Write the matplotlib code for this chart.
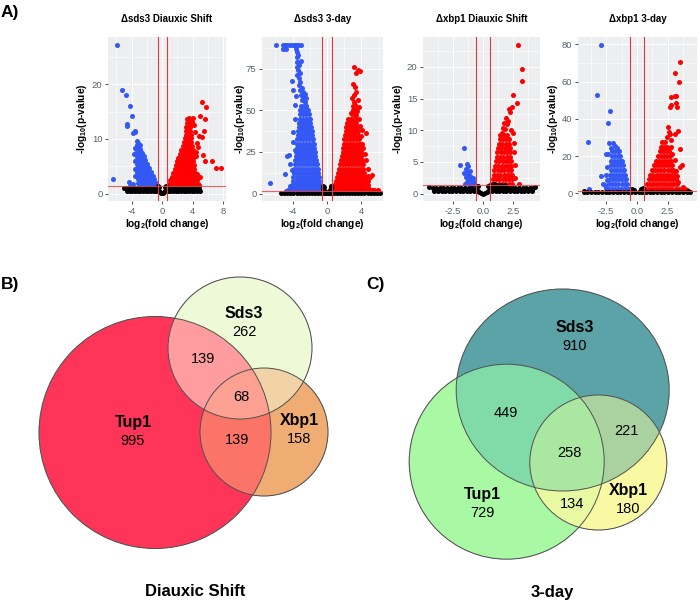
import numpy as np
import matplotlib
matplotlib.use("Agg")
import matplotlib.pyplot as plt
from matplotlib.patches import Ellipse
from matplotlib.colors import to_rgba

plt.rcParams['font.family'] = ['Liberation Sans', 'DejaVu Sans']
plt.rcParams['mathtext.fontset'] = 'custom'
plt.rcParams['mathtext.bf'] = 'Liberation Sans:bold'
plt.rcParams['mathtext.rm'] = 'Liberation Sans'
plt.rcParams['mathtext.default'] = 'bf'
plt.rcParams['axes.unicode_minus'] = False

W, H = 700, 604

# ---------------- volcano data ----------------
# dense clouds are given as rows: (y, [x, x, ...]); stray points as (x, y)

# Δsds3 Diauxic Shift
sds3_ds_blue_rows = [
    (8.9, [-3.3, -3.1]),
    (8.2, [-3.4, -3.15, -2.9]),
    (7.5, [-3.4, -3.15, -2.9, -2.65]),
    (6.8, [-3.35, -3.1, -2.85, -2.6, -2.4]),
    (6.1, [-3.4, -3.15, -2.9, -2.65, -2.4, -2.2]),
    (5.4, [-3.35, -3.1, -2.85, -2.6, -2.35, -2.1, -1.95]),
    (4.7, [-3.3, -3.05, -2.8, -2.55, -2.3, -2.05, -1.8, -1.7]),
    (4.0, [-3.3, -3.05, -2.8, -2.55, -2.3, -2.05, -1.8, -1.55, -1.45]),
    (3.3, [-3.25, -3.0, -2.75, -2.5, -2.25, -2.0, -1.75, -1.5, -1.25]),
    (2.6, [-3.2, -2.95, -2.7, -2.45, -2.2, -1.95, -1.7, -1.45, -1.2, -1.0]),
    (1.9, [-3.2, -2.95, -2.7, -2.45, -2.2, -1.95, -1.7, -1.45, -1.2, -0.95, -0.8]),
    (1.5, [-3.0, -2.5, -2.0, -1.5, -1.1, -0.75]),
]
sds3_ds_blue_out = [(-6.4, 2.7), (-5.95, 27.2), (-5.3, 19.0), (-4.8, 18.0), (-4.2, 16.1),
                    (-3.9, 14.2), (-4.65, 12.8), (-4.65, 12.35), (-3.8, 11.1), (-3.5, 11.4),
                    (-3.6, 11.2), (-4.4, 2.1), (-4.2, 1.4), (-3.8, 1.7), (-3.1, 9.3),
                    (-3.25, 9.6), (-2.9, 8.9), (-3.6, 8.3), (-3.7, 7.2), (-3.55, 6.0),
                    (-2.7, 7.6), (-2.5, 6.6), (-3.5, 4.5), (-3.6, 3.3)]
sds3_ds_red_rows = [
    (1.7, [0.9, 1.2, 1.5, 1.8, 2.1, 2.4, 2.7, 3.0, 3.3, 3.6, 3.9, 4.2, 4.5, 4.75]),
    (2.4, [1.1, 1.4, 1.7, 2.0, 2.3, 2.6, 2.9, 3.2, 3.5, 3.8, 4.1, 4.4, 4.6]),
    (3.1, [1.3, 1.6, 1.9, 2.2, 2.5, 2.8, 3.1, 3.4, 3.7, 4.0, 4.3]),
    (3.8, [1.45, 1.75, 2.05, 2.35, 2.65, 2.95, 3.25, 3.55, 3.85, 4.15, 4.3]),
    (4.5, [1.65, 1.95, 2.25, 2.55, 2.85, 3.15, 3.45, 3.75, 4.05, 4.25]),
    (5.2, [1.8, 2.1, 2.4, 2.7, 3.0, 3.3, 3.6, 3.9, 4.2]),
    (5.9, [2.0, 2.3, 2.6, 2.9, 3.2, 3.5, 3.8, 4.1]),
    (6.6, [2.15, 2.45, 2.75, 3.05, 3.35, 3.65, 3.95, 4.1]),
    (7.3, [2.35, 2.65, 2.95, 3.25, 3.55, 3.85, 4.05]),
    (8.0, [2.55, 2.85, 3.15, 3.45, 3.75, 4.0]),
    (8.7, [2.7, 3.0, 3.3, 3.6, 3.9]),
    (9.4, [2.9, 3.2, 3.5, 3.8]),
    (10.1, [3.05, 3.3, 3.55, 3.8]),
    (10.8, [3.1, 3.35, 3.6, 3.85]),
    (11.5, [3.15, 3.4, 3.65]),
    (12.2, [3.2, 3.45, 3.7]),
    (12.9, [3.25, 3.5, 3.75]),
    (13.6, [3.3, 3.55]),
]
sds3_ds_red_out = [(5.2, 16.75), (5.8, 15.9), (5.0, 14.2), (5.65, 13.75), (5.45, 11.45),
                   (4.9, 10.6), (4.6, 9.2), (5.2, 10.3), (5.35, 7.0), (5.6, 5.9), (6.6, 5.9),
                   (7.05, 4.6), (7.75, 4.7), (4.7, 8.5), (4.5, 6.8), (4.8, 1.6), (4.3, 11.2),
                   (4.15, 12.5), (3.9, 13.2), (4.55, 3.5), (5.0, 3.0), (4.4, 7.6), (4.0, 13.8),
                   (3.6, 13.9)]
sds3_ds_black_rows = [
    (0.95, [-4.8, -4.45, -4.1, -3.75, -3.4, -3.05, -2.7, -2.35, -2.0, -1.65, -1.3, -0.95, -0.6,
            0.6, 0.95, 1.3, 1.65, 2.0, 2.35, 2.7, 3.05, 3.4, 3.75, 4.1, 4.45, 4.8]),
    (0.45, [-4.6, -4.25, -3.9, -3.55, -3.2, -2.85, -2.5, -2.15, -1.8, -1.45, -1.1, -0.75, -0.45,
            0.45, 0.75, 1.1, 1.45, 1.8, 2.15, 2.5, 2.85, 3.2, 3.55, 3.9, 4.25, 4.6, 4.95]),
]
sds3_ds_black_out = [(-0.3, 0.3), (-0.15, 0.1), (0.0, 0.03), (0.15, 0.1), (0.3, 0.3),
                     (-0.45, 1.2), (0.45, 1.2), (-0.55, 1.4), (0.55, 1.35), (-5.0, 1.1)]

# Δsds3 3-day
sds3_3d_blue_rows = [
    (2.5, [-4.2, -3.85, -3.5, -3.15, -2.8, -2.45, -2.1, -1.75, -1.4, -1.05, -0.7]),
    (5.0, [-4.1, -3.75, -3.4, -3.05, -2.7, -2.35, -2.0, -1.65, -1.3, -0.95, -0.78]),
    (7.5, [-3.95, -3.6, -3.25, -2.9, -2.55, -2.2, -1.85, -1.5, -1.15, -0.88]),
    (10.0, [-3.9, -3.55, -3.2, -2.85, -2.5, -2.15, -1.8, -1.45, -1.1, -0.97]),
    (12.5, [-3.85, -3.5, -3.15, -2.8, -2.45, -2.1, -1.75, -1.4, -1.05]),
    (15.0, [-3.8, -3.45, -3.1, -2.75, -2.4, -2.05, -1.7, -1.35, -1.1]),
    (17.5, [-3.75, -3.4, -3.05, -2.7, -2.35, -2.0, -1.65, -1.3, -1.15]),
    (20.0, [-3.7, -3.35, -3.0, -2.65, -2.3, -1.95, -1.6, -1.25]),
    (22.5, [-3.65, -3.3, -2.95, -2.6, -2.25, -1.9, -1.55, -1.35]),
    (25.0, [-3.6, -3.25, -2.9, -2.55, -2.2, -1.85, -1.5, -1.4]),
    (27.5, [-3.55, -3.2, -2.85, -2.5, -2.15, -1.8, -1.5]),
    (30.0, [-3.5, -3.15, -2.8, -2.45, -2.1, -1.75, -1.55]),
    (32.5, [-3.45, -3.1, -2.75, -2.4, -2.05, -1.7, -1.6]),
    (35.0, [-3.4, -3.05, -2.7, -2.35, -2.0, -1.7]),
    (37.5, [-3.35, -3.0, -2.65, -2.3, -1.95, -1.8]),
    (40.0, [-3.3, -2.95, -2.6, -2.25, -1.9]),
    (42.5, [-3.25, -2.9, -2.55, -2.2, -1.95]),
    (45.0, [-3.2, -2.85, -2.5, -2.15, -2.0]),
    (47.5, [-3.15, -2.8, -2.45, -2.1]),
    (50.0, [-3.1, -2.75, -2.4, -2.2]),
    (52.5, [-3.0, -2.7, -2.4]),
    (89.2, [-5.93, -5.15, -4.88, -4.6, -4.3, -3.99, -3.72, -3.52, -3.33, -3.06]),
]
sds3_3d_blue_out = [(-2.6, 55), (-2.9, 56.3), (-2.75, 58), (-3.05, 59.3), (-2.8, 61),
                    (-3.15, 62.3), (-2.95, 63.5), (-3.3, 65.3), (-3.1, 67), (-4.1, 67.8),
                    (-3.3, 69.3), (-3.5, 71), (-3.2, 72.3), (-3.4, 74.3), (-3.55, 76),
                    (-3.3, 77.2), (-3.07, 79.6), (-3.5, 79.2), (-3.45, 81.8), (-3.33, 83.2),
                    (-3.55, 85.2), (-3.6, 87), (-5.1, 86.6), (-4.8, 86.6), (-3.25, 42.3),
                    (-3.99, 36.9), (-4.38, 23.3), (-4.6, 22.4), (-4.88, 11.9), (-6.6, 6.4),
                    (-3.68, 26.3), (-4.1, 14.0), (-4.3, 4.5), (-4.5, 2.0), (-4.8, 1.8),
                    (-4.25, 17.5), (-3.9, 31), (-3.7, 45), (-3.6, 58.5), (-4.0, 62),
                    (-3.75, 53), (-2.4, 57.5), (-2.6, 60), (-2.5, 52.8)]
sds3_3d_red_rows = [
    (2.5, [0.7, 1.05, 1.4, 1.75, 2.1, 2.45, 2.8, 3.15, 3.5, 3.85, 4.2, 4.55, 4.9]),
    (5.0, [0.85, 1.2, 1.55, 1.9, 2.25, 2.6, 2.95, 3.3, 3.65, 4.0, 4.35, 4.7]),
    (7.5, [1.0, 1.35, 1.7, 2.05, 2.4, 2.75, 3.1, 3.45, 3.8, 4.15, 4.5]),
    (10.0, [1.15, 1.5, 1.85, 2.2, 2.55, 2.9, 3.25, 3.6, 3.95, 4.3, 4.5]),
    (12.5, [1.3, 1.65, 2.0, 2.35, 2.7, 3.05, 3.4, 3.75, 4.1, 4.35]),
    (15.0, [1.4, 1.75, 2.1, 2.45, 2.8, 3.15, 3.5, 3.85, 4.2]),
    (17.5, [1.5, 1.85, 2.2, 2.55, 2.9, 3.25, 3.6, 3.95, 4.15]),
    (20.0, [1.6, 1.95, 2.3, 2.65, 3.0, 3.35, 3.7, 4.05]),
    (22.5, [1.7, 2.05, 2.4, 2.75, 3.1, 3.45, 3.8, 4.0]),
    (25.0, [1.8, 2.15, 2.5, 2.85, 3.2, 3.55, 3.9]),
    (27.5, [1.85, 2.2, 2.55, 2.9, 3.25, 3.6, 3.85]),
    (30.0, [1.95, 2.3, 2.65, 3.0, 3.35, 3.7, 3.8]),
    (32.5, [2.0, 2.35, 2.7, 3.05, 3.4, 3.7]),
    (35.0, [2.1, 2.45, 2.8, 3.15, 3.5, 3.6]),
    (37.5, [2.15, 2.5, 2.85, 3.2, 3.55]),
    (40.0, [2.2, 2.55, 2.9, 3.25, 3.5]),
    (42.5, [2.3, 2.65, 3.0, 3.35]),
    (45.0, [2.45, 2.8, 3.15, 3.4]),
]
sds3_3d_red_out = [(2.9, 47.5), (3.15, 47.8), (3.4, 47.2), (3.0, 50), (3.25, 50.5), (3.5, 49.5),
                   (3.05, 52.5), (3.3, 53), (3.1, 55), (3.57, 56.3), (2.95, 57.5), (3.18, 59.3),
                   (3.35, 61), (3.26, 63.9), (3.0, 66), (3.18, 75.8), (3.57, 74.2), (3.88, 73.6),
                   (3.41, 72.6), (3.76, 44.7), (4.53, 36.3), (3.95, 34.5), (4.1, 30), (4.2, 27.5),
                   (4.4, 24), (4.55, 20), (4.8, 10.4), (5.27, 11.4), (5.0, 9.8), (4.4, 8),
                   (4.7, 7.5), (5.9, 2.4), (5.2, 2.2), (5.45, 2.0), (4.75, 15), (3.7, 52),
                   (2.75, 48.5), (3.85, 40.5), (4.05, 38)]
sds3_3d_black_rows = [
    (0.6, [-5.3, -4.95, -4.6, -4.25, -3.9, -3.55, -3.2, -2.85, -2.5, -2.15, -1.8, -1.45, -1.1,
           -0.75, -0.4, -0.1, 0.2, 0.5, 0.85, 1.2, 1.55, 1.9, 2.25, 2.6, 2.95, 3.3, 3.65, 4.0,
           4.35, 4.7, 5.05, 5.4, 5.75, 6.1]),
]
sds3_3d_black_out = [(-0.45, 2.8), (-0.35, 4.2), (-0.5, 4.8), (-0.25, 1.8), (0.3, 2.2),
                     (0.45, 3.5), (0.5, 1.5), (0.4, 4.6), (0.0, 0.2)]

# Δxbp1 Diauxic Shift
xbp1_ds_blue_rows = []
xbp1_ds_blue_out = [(-1.58, 7.15), (-1.92, 4.5), (-1.36, 4.75), (-1.25, 4.3), (-1.4, 3.9),
                    (-1.58, 3.2), (-1.3, 3.3), (-1.15, 3.0), (-1.0, 2.7), (-1.2, 2.5),
                    (-0.95, 2.2), (-0.8, 2.0), (-1.1, 1.9), (-1.35, 1.8), (-0.75, 1.6),
                    (-0.9, 1.5), (-1.5, 1.5), (-1.05, 1.45), (-0.65, 1.4), (-1.25, 2.2),
                    (-1.45, 2.6), (-0.85, 2.5), (-1.05, 3.5)]
xbp1_ds_red_rows = [
    (1.6, [0.75, 1.03, 1.31, 1.59, 1.87, 2.15, 2.43]),
    (2.3, [0.8, 1.08, 1.36, 1.64, 1.92, 2.2, 2.45]),
    (3.0, [0.88, 1.16, 1.44, 1.72, 2.0, 2.28, 2.42]),
    (3.7, [0.95, 1.23, 1.51, 1.79, 2.07, 2.35]),
    (4.4, [1.0, 1.28, 1.56, 1.84, 2.12, 2.35]),
    (5.1, [1.07, 1.35, 1.63, 1.91, 2.19, 2.32]),
    (5.8, [1.13, 1.41, 1.69, 1.97, 2.25]),
    (6.5, [1.2, 1.48, 1.76, 2.04, 2.25]),
    (7.2, [1.26, 1.54, 1.82, 2.1, 2.22]),
    (7.9, [1.33, 1.61, 1.89, 2.17]),
    (8.6, [1.39, 1.67, 1.95, 2.2]),
    (9.2, [1.45, 1.73, 2.0]),
]
xbp1_ds_red_out = [(1.55, 9.63), (1.69, 10.4), (1.97, 10.95), (1.92, 12.0), (2.25, 12.8),
                   (2.19, 13.3), (2.39, 13.6), (2.53, 15.5), (2.81, 14.3), (2.89, 23.5),
                   (3.22, 19.6), (3.28, 17.7), (1.8, 10.2), (2.1, 11.5), (2.3, 10.0),
                   (2.5, 9.5), (2.6, 8.0), (2.55, 6.5), (2.7, 4.5), (2.65, 2.5), (3.0, 1.6),
                   (2.14, 1.4), (1.75, 11.2)]
xbp1_ds_black_rows = [
    (0.95, [-4.2, -3.9, -3.6, -3.3, -3.0, -2.7, -2.4, -2.1, -1.8, -1.5, -1.2, -0.9, -0.6,
            0.6, 0.9, 1.2, 1.5, 1.8, 2.1, 2.4, 2.7, 3.0, 3.3, 3.6, 3.9, 4.2]),
    (0.45, [-4.05, -3.75, -3.45, -3.15, -2.85, -2.55, -2.25, -1.95, -1.65, -1.35, -1.05, -0.75,
            -0.45, 0.45, 0.75, 1.05, 1.35, 1.65, 1.95, 2.25, 2.55, 2.85, 3.15, 3.45, 3.75, 4.05]),
]
xbp1_ds_black_out = [(-0.3, 0.3), (-0.15, 0.1), (0.0, 0.03), (0.15, 0.1), (0.3, 0.3),
                     (0.6, 1.4), (0.9, 1.5), (1.2, 1.45), (1.5, 1.35), (1.8, 1.3),
                     (-4.5, 1.0), (4.35, 1.1), (-0.45, 1.2), (0.45, 1.25)]

# Δxbp1 3-day
xbp1_3d_blue_rows = [
    (2.5, [-2.3, -2.05, -1.8, -1.55, -1.3, -1.05, -0.8, -0.65]),
    (5.0, [-2.25, -2.0, -1.75, -1.5, -1.25, -1.0, -0.78]),
    (7.5, [-2.2, -1.95, -1.7, -1.45, -1.2, -0.95, -0.87]),
    (10.0, [-2.2, -1.95, -1.7, -1.45, -1.2, -0.97]),
    (12.5, [-2.15, -1.9, -1.65, -1.4, -1.15, -1.05]),
    (15.0, [-2.15, -1.9, -1.65, -1.4, -1.17]),
    (17.5, [-2.1, -1.85, -1.6, -1.35, -1.25]),
    (20.0, [-2.05, -1.8, -1.55, -1.35]),
    (22.5, [-2.0, -1.75, -1.5, -1.45]),
]
xbp1_3d_blue_out = [(-2.93, 79.5), (-3.28, 52.8), (-3.95, 27.3), (-3.87, 2.5), (-2.16, 44.2),
                    (-2.35, 37.9), (-2.89, 9.3), (-2.6, 4.3), (-2.75, 5.2), (-2.1, 24.5),
                    (-1.8, 25.5), (-1.6, 24.3), (-1.95, 27.2), (-2.35, 21.3), (-2.5, 21),
                    (-2.3, 26.8), (-2.45, 14), (-2.5, 10), (-2.4, 7), (-2.55, 3)]
xbp1_3d_red_rows = [
    (2.5, [0.65, 0.9, 1.15, 1.4, 1.65, 1.9, 2.15, 2.4, 2.65, 2.9, 3.15, 3.4, 3.65]),
    (5.0, [0.8, 1.05, 1.3, 1.55, 1.8, 2.05, 2.3, 2.55, 2.8, 3.05, 3.3]),
    (7.5, [0.95, 1.2, 1.45, 1.7, 1.95, 2.2, 2.45, 2.7, 2.95, 3.15]),
    (10.0, [1.1, 1.35, 1.6, 1.85, 2.1, 2.35, 2.6, 2.85, 3.05]),
    (12.5, [1.25, 1.5, 1.75, 2.0, 2.25, 2.5, 2.75, 2.95]),
    (15.0, [1.4, 1.65, 1.9, 2.15, 2.4, 2.65, 2.85]),
    (17.5, [1.55, 1.8, 2.05, 2.3, 2.55, 2.75]),
    (20.0, [1.7, 1.95, 2.2, 2.45, 2.7]),
    (22.5, [1.85, 2.1, 2.35, 2.6]),
    (25.0, [1.95, 2.2, 2.45]),
    (27.5, [2.05, 2.3]),
]
xbp1_3d_red_out = [(3.55, 70.8), (3.09, 64.5), (3.42, 60.0), (2.82, 51.9), (3.09, 52.3),
                   (3.2, 52.5), (2.68, 46.5), (2.78, 47.5), (3.2, 48.4), (3.25, 46.2),
                   (2.55, 35.8), (2.6, 33), (2.7, 32), (3.36, 33.4), (3.5, 24.0), (3.64, 15.1),
                   (3.5, 14.2), (2.82, 28.7), (2.74, 25.1), (3.09, 31.8), (3.36, 6.0),
                   (3.74, 3.4), (2.45, 30), (2.9, 21), (3.1, 18), (3.2, 12), (3.3, 9),
                   (3.9, 2.0), (4.1, 1.8)]
xbp1_3d_black_rows = [
    (0.6, [-4.35, -4.05, -3.75, -3.45, -3.15, -2.85, -2.55, -2.25, -1.95, -1.65, -1.35, -1.05,
           -0.75, -0.45, -0.15, 0.15, 0.45, 0.75, 1.05, 1.35, 1.65, 1.95, 2.25, 2.55, 2.85,
           3.15, 3.45, 3.75, 4.05, 4.35]),
]
xbp1_3d_black_out = [(-0.4, 2.5), (0.35, 2.0), (-0.2, 1.5), (0.5, 3.0), (-4.35, 1.2), (4.2, 1.1)]

panel_titles = ["\u0394sds3 Diauxic Shift", "\u0394sds3 3-day",
                "\u0394xbp1 Diauxic Shift", "\u0394xbp1 3-day"]
panel_xlims = [(-7.1, 8.4), (-7.56, 6.5), (-5.0, 4.75), (-4.8, 4.9)]
panel_ylims = [(-1.37, 28.7), (-4.5, 94), (-1.15, 24.7), (-4.2, 84)]
panel_xticks = [[-4, 0, 4, 8], [-4, 0, 4], [-2.5, 0.0, 2.5], [-2.5, 0.0, 2.5]]
panel_xticklabels = [["-4", "0", "4", "8"], ["-4", "0", "4"],
                     ["-2.5", "0.0", "2.5"], ["-2.5", "0.0", "2.5"]]
panel_xminor = [[-6, -2, 2, 6], [-6, -2, 2, 6], [-3.75, -1.25, 1.25, 3.75], [-3.75, -1.25, 1.25, 3.75]]
panel_yticks = [[0, 10, 20], [0, 25, 50, 75], [0, 5, 10, 15, 20], [0, 20, 40, 60, 80]]
panel_yminor = [[5, 15, 25], [12.5, 37.5, 62.5, 87.5], [2.5, 7.5, 12.5, 17.5, 22.5],
                [10, 30, 50, 70]]
fc_cut = 0.585
p_cut = 1.3

panel_data = [
    (sds3_ds_blue_rows, sds3_ds_blue_out, sds3_ds_red_rows, sds3_ds_red_out,
     sds3_ds_black_rows, sds3_ds_black_out),
    (sds3_3d_blue_rows, sds3_3d_blue_out, sds3_3d_red_rows, sds3_3d_red_out,
     sds3_3d_black_rows, sds3_3d_black_out),
    (xbp1_ds_blue_rows, xbp1_ds_blue_out, xbp1_ds_red_rows, xbp1_ds_red_out,
     xbp1_ds_black_rows, xbp1_ds_black_out),
    (xbp1_3d_blue_rows, xbp1_3d_blue_out, xbp1_3d_red_rows, xbp1_3d_red_out,
     xbp1_3d_black_rows, xbp1_3d_black_out),
]
# panel boxes in pixels: left, right, top, bottom
panel_px = [(108, 226, 37, 201), (262, 383, 37, 201), (423, 540, 37, 201), (578, 697, 37, 201)]

# ---------------- venn data ----------------
venn_b_counts = {"T": 995, "S": 262, "X": 158, "TS": 139, "TX": 139, "SX": None, "TSX": 68}
venn_c_counts = {"T": 729, "S": 910, "X": 180, "TS": 449, "TX": 134, "SX": 221, "TSX": 258}
venn_b_colors = {"T": "#FF3559", "S": "#EEF9D7", "X": "#F0AD74", "TS": "#FE9CA0",
                 "TX": "#FD7468", "SX": "#F1D4A7", "TSX": "#FCA192"}
venn_c_colors = {"T": "#A9F8A4", "S": "#5CA3A8", "X": "#F9F9A3", "TS": "#80DBA9",
                 "TX": "#E9F9A2", "SX": "#AAD3A0", "TSX": "#AAE8A1"}
# circle geometry in pixels: cx, cy, width, height
venn_b_shapes = {"T": (155, 432.5, 232, 232), "S": (240, 348, 144, 142), "X": (264, 432, 128, 128)}
venn_c_shapes = {"T": (506.7, 461.7, 195, 195), "S": (562.7, 390, 213, 202), "X": (598.3, 462.5, 137, 135)}
venn_b_text = {"T": (133, 423), "S": (244, 314), "X": (299, 421), "TS": (203, 359),
               "TX": (237, 440), "TSX": (241, 397)}
venn_c_text = {"T": (482, 495), "S": (575, 328), "X": (628, 491), "TS": (506, 413),
               "TX": (572, 504), "SX": (626, 431), "TSX": (569, 453)}
set_names = {"T": "Tup1", "S": "Sds3", "X": "Xbp1"}


def unpack(rows, extra):
    xs = [x for y, row in rows for x in row] + [p[0] for p in extra]
    ys = [y for y, row in rows for _ in row] + [p[1] for p in extra]
    return xs, ys


def fx(px):
    return px / W


def fy(py):
    return 1 - py / H


fig = plt.figure(figsize=(7, 6.04), dpi=100)

# overlay axes in pixel coordinates for venns and panel letters
ov = fig.add_axes([0, 0, 1, 1])
ov.set_xlim(0, W)
ov.set_ylim(H, 0)
ov.axis('off')

# ---------------- volcano panels ----------------
tick_grey = "#5B6270"
for i in range(4):
    l, r, t, b = panel_px[i]
    ax = fig.add_axes([fx(l), fy(b), (r - l) / W, (b - t) / H])
    ax.set_facecolor("#ECEEF0")
    for s in ax.spines.values():
        s.set_visible(False)
    br, bo, rr, ro, kr, ko = panel_data[i]
    for rows, out, col in [(br, bo, "#3358F5"), (rr, ro, "#FF0000"), (kr, ko, "#000000")]:
        xs, ys = unpack(rows, out)
        ax.scatter(xs, ys, s=13, c=col, linewidths=0, zorder=3)
    ax.axvline(-fc_cut, color="#E0393E", lw=0.8, zorder=4)
    ax.axvline(fc_cut, color="#E0393E", lw=0.8, zorder=4)
    ax.axhline(p_cut, color="#E64B52", lw=0.8, alpha=0.85, zorder=4)
    ax.set_xlim(*panel_xlims[i])
    ax.set_ylim(*panel_ylims[i])
    ax.set_xticks(panel_xticks[i], panel_xticklabels[i])
    ax.set_yticks(panel_yticks[i], [str(v) for v in panel_yticks[i]])
    ax.set_xticks(panel_xminor[i], minor=True)
    ax.set_yticks(panel_yminor[i], minor=True)
    ax.grid(which='major', color='white', lw=0.8)
    ax.grid(which='minor', color='white', lw=0.4)
    ax.set_axisbelow(True)
    ax.tick_params(which='major', length=2.5, width=0.6, color='#333333',
                   labelsize=6.8, labelcolor=tick_grey, pad=1.5)
    ax.tick_params(which='minor', length=0)
    cx = (l + r) / 2
    fig.text(fx(cx), fy(19), panel_titles[i], ha='center', va='center',
             fontsize=7, fontweight='bold')
    fig.text(fx(cx), fy(224), r"log$_2$(fold change)", ha='center', va='center',
             fontsize=7.3, fontweight='bold')
    ylab_x = [82, 240, 398, 553][i]
    fig.text(fx(ylab_x), fy((t + b) / 2), r"-log$_{10}$(p-value)", ha='center', va='center',
             rotation=90, fontsize=7.3, fontweight='bold')

# ---------------- venn diagrams ----------------
yy, xx = np.mgrid[270:604:0.5, 0:700:0.5] + 0.25
img = np.zeros(xx.shape + (4,))
for shapes, colors in [(venn_b_shapes, venn_b_colors), (venn_c_shapes, venn_c_colors)]:
    masks = {}
    for k, (cx, cy, w, h) in shapes.items():
        masks[k] = ((xx - cx) / (w / 2)) ** 2 + ((yy - cy) / (h / 2)) ** 2 <= 1
    for key, col in colors.items():
        m = np.ones(xx.shape, bool)
        for k in "TSX":
            m &= masks[k] if k in key else ~masks[k]
        img[m] = to_rgba(col)
ov.imshow(img, extent=(0, 700, 604, 270), interpolation='antialiased', zorder=1)
ov.set_xlim(0, W)
ov.set_ylim(H, 0)

for shapes in [venn_b_shapes, venn_c_shapes]:
    for k, (cx, cy, w, h) in shapes.items():
        ov.add_patch(Ellipse((cx, cy), w, h, fill=False, ec="#505050", lw=0.7, zorder=2))

for counts, pos in [(venn_b_counts, venn_b_text), (venn_c_counts, venn_c_text)]:
    for key, (px, py) in pos.items():
        if len(key) == 1:
            ov.text(px, py, set_names[key], ha='center', va='center', fontsize=11.5,
                    fontweight='bold', zorder=5)
            ov.text(px, py + 18, str(counts[key]), ha='center', va='center', fontsize=10.5, zorder=5)
        else:
            ov.text(px, py, str(counts[key]), ha='center', va='center', fontsize=10.5, zorder=5)

ov.text(195, 592, "Diauxic Shift", ha='center', va='center', fontsize=12, fontweight='bold')
ov.text(552, 592, "3-day", ha='center', va='center', fontsize=12, fontweight='bold')

ov.text(1, 13, "A)", ha='left', va='center', fontsize=12.5, fontweight='bold')
ov.text(1, 285, "B)", ha='left', va='center', fontsize=12.5, fontweight='bold')
ov.text(366, 285, "C)", ha='left', va='center', fontsize=12.5, fontweight='bold')

fig.savefig("out.png", dpi=100)
